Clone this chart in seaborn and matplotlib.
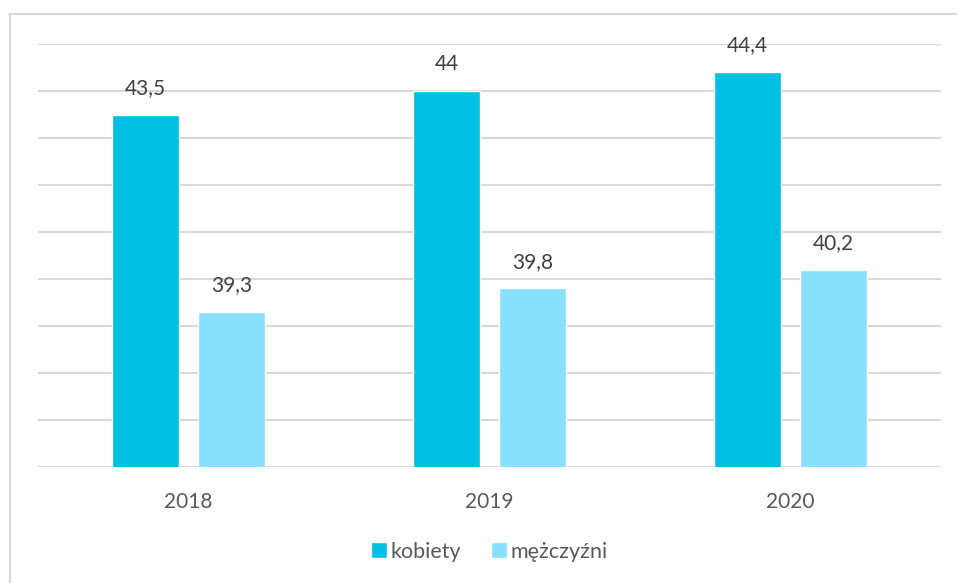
import pandas as pd
import seaborn as sns
import matplotlib.pyplot as plt
from matplotlib.lines import Line2D

lata = ["2018", "2019", "2020"]
kobiety = [43.5, 44.0, 44.4]
mezczyzni = [39.3, 39.8, 40.2]
grupy = ["kobiety", "mężczyźni"]
kolory = ["#00C0E3", "#87E1FF"]

df = pd.DataFrame({
    "rok": lata * 2,
    "wartosc": kobiety + mezczyzni,
    "plec": [grupy[0]] * 3 + [grupy[1]] * 3,
})

sns.set_style("white")
plt.rcParams["font.family"] = ["Lato", "DejaVu Sans"]

fig = plt.figure(figsize=(9.57, 5.83), dpi=100)
ax = fig.add_axes([38 / 957, 1 - 467 / 583, (941 - 38) / 957, (467 - 44) / 583])

sns.barplot(data=df, x="rok", y="wartosc", hue="plec", palette=kolory,
            width=0.57, gap=0.22, ax=ax, legend=True, saturation=1)

ax.set_ylim(36, 45)
ax.set_yticks(range(36, 46))
ax.set_yticklabels([])
ax.tick_params(axis="y", length=0)
ax.tick_params(axis="x", length=0, labelsize=15, colors="#595959", pad=18)
ax.yaxis.grid(True, color="#D9D9D9", linewidth=1.5)
ax.set_axisbelow(True)
for s in ax.spines.values():
    s.set_visible(False)
ax.set_xlabel("")
ax.set_ylabel("")

# etykiety wartości z przecinkiem dziesiętnym
for cont in ax.containers:
    etyk = [("%g" % b.get_height()).replace(".", ",") for b in cont]
    ax.bar_label(cont, labels=etyk, padding=12, fontsize=15, color="#404040")

h, l = ax.get_legend_handles_labels()
ax.legend(h, l, loc="lower center", bbox_to_anchor=(0.5, -0.27), ncol=2,
          frameon=False, fontsize=15.5, labelcolor="#595959",
          handlelength=0.75, handleheight=0.75, handletextpad=0.15, columnspacing=1.4)

# ramka wykresu
fig.add_artist(Line2D([9 / 957, 1], [1 - 14 / 583, 1 - 14 / 583], color="#D9D9D9", lw=1.5))
fig.add_artist(Line2D([10 / 957, 10 / 957], [0, 1 - 14 / 583], color="#D9D9D9", lw=1.5))

plt.savefig("out.png", dpi=100)
